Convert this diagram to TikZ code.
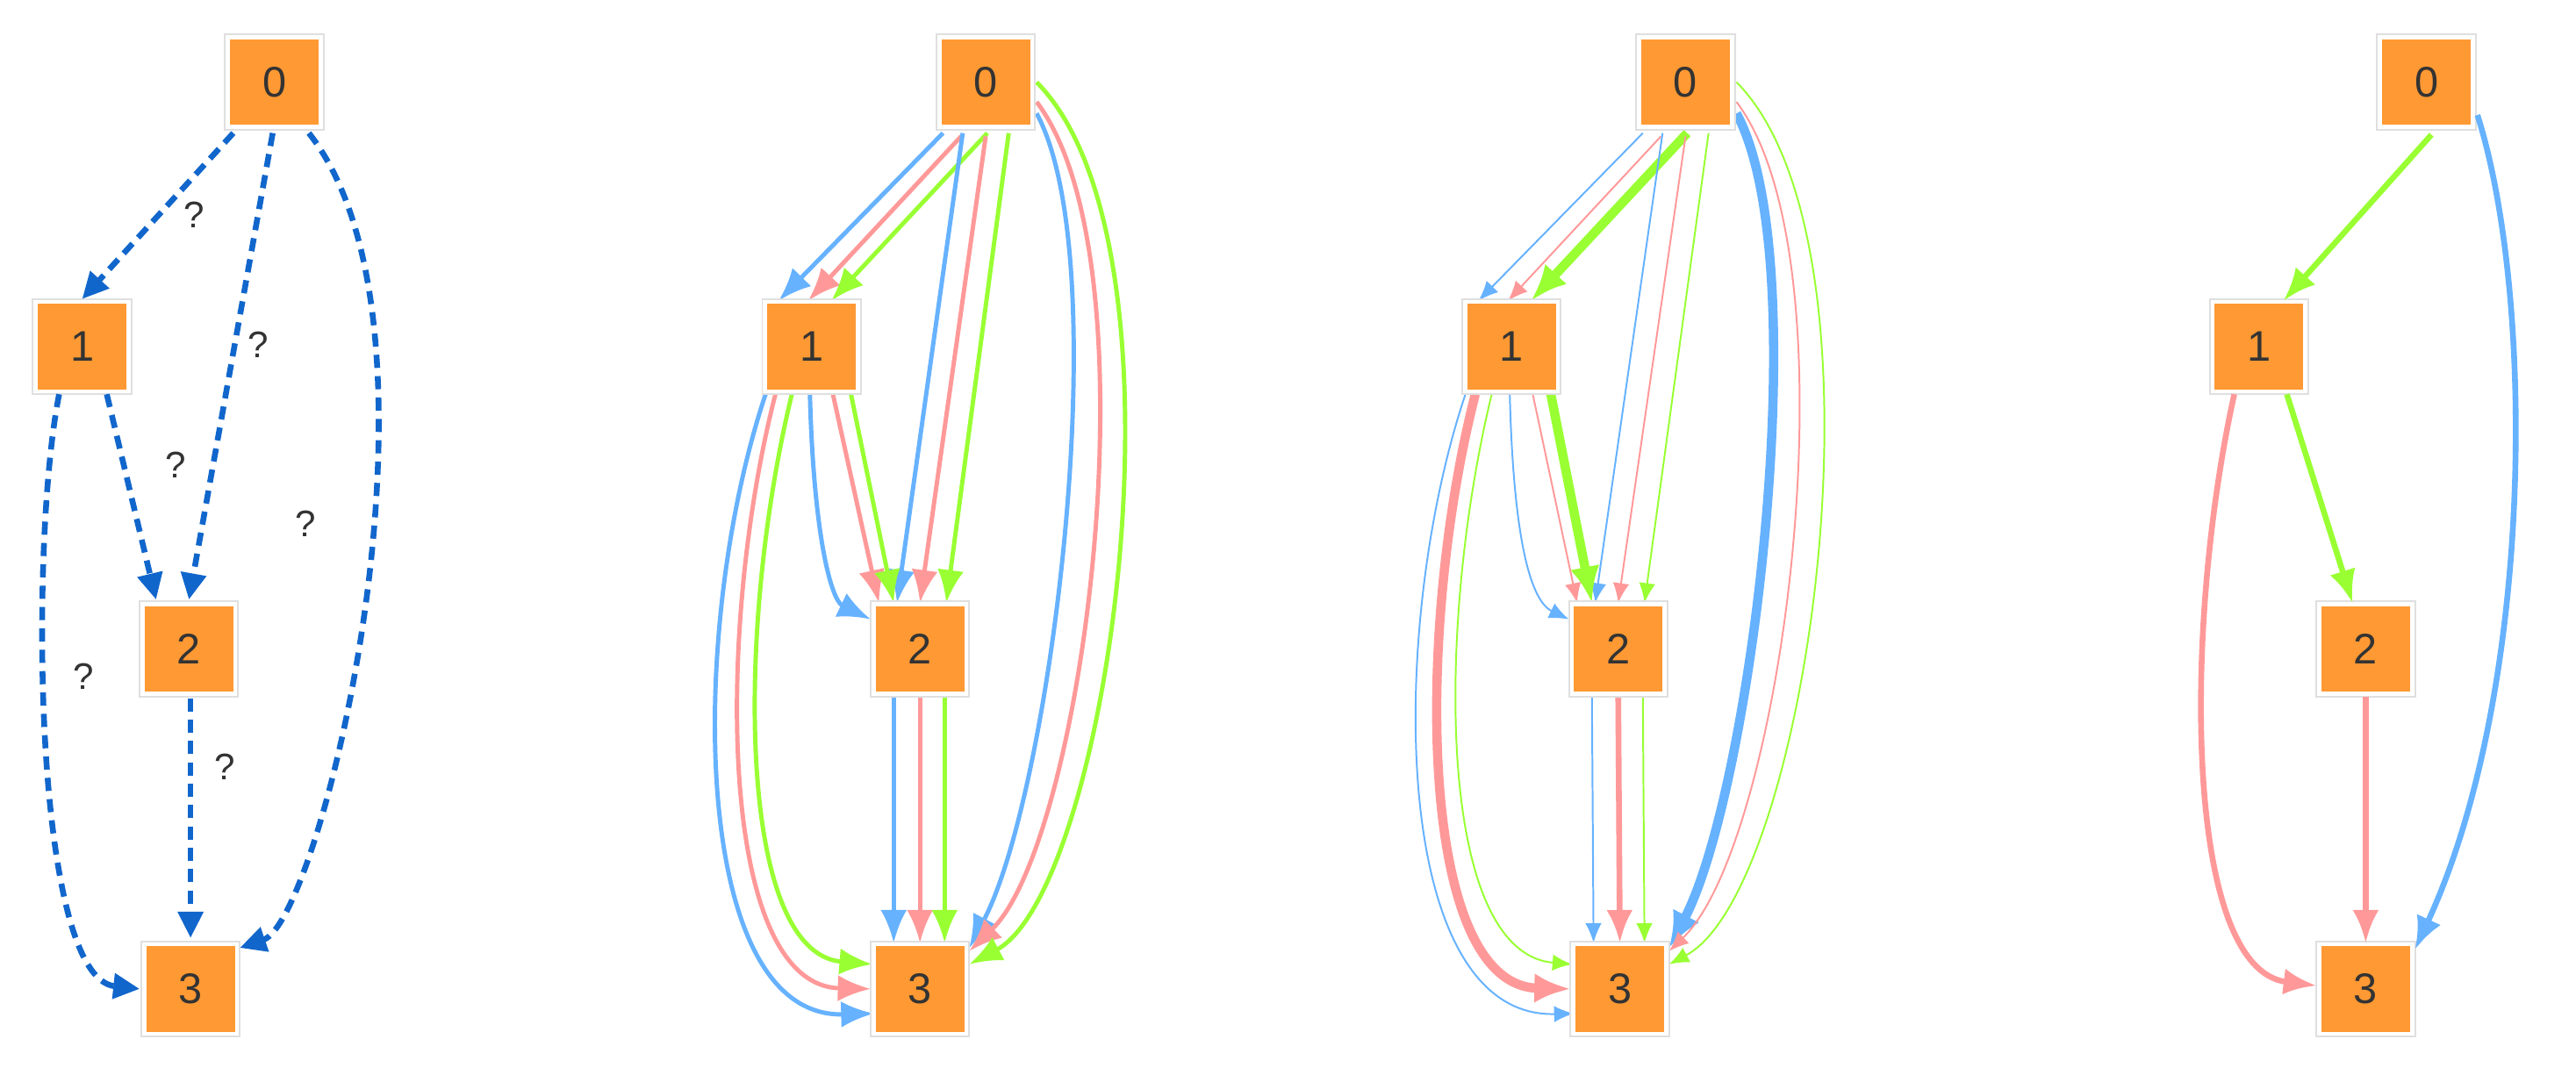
\documentclass[tikz,border=0pt]{standalone}
\usepackage{fontspec}
\setmainfont{Liberation Sans}
\usetikzlibrary{arrows.meta,calc}
\definecolor{cblue}{HTML}{66B2FF}
\definecolor{cpink}{HTML}{FF9999}
\definecolor{cgreen}{HTML}{99FF33}
\definecolor{corange}{HTML}{FF9933}
\definecolor{cdash}{HTML}{1166CC}
\definecolor{ctext}{HTML}{333333}
\newcommand{\multiedges}[1]{%
 % 0 -> 1
 \draw[cb,w01b] ($(#1n0)+(-26,31)$) -- ($(#1n1)+(-20,-28)$);
 \draw[cp,w01p] ($(#1n0)+(-15,33)$) -- ($(#1n1)+(-2,-28)$);
 \draw[cg,w01g] ($(#1n0)+(1,31)$) -- ($(#1n1)+(12,-28)$);
 % 0 -> 2
 \draw[cb,w02b] ($(#1n0)+(-14,31)$) -- ($(#1n2)+(-14,-28)$);
 \draw[cp,w02p] ($(#1n0)+(0,33)$) -- ($(#1n2)+(0,-28)$);
 \draw[cg,w02g] ($(#1n0)+(14,31)$) -- ($(#1n2)+(16,-28)$);
 % 1 -> 2
 \draw[cb,w12b] ($(#1n1)+(-1,29)$) .. controls ($(#1n1)+(1,109)$) and ($(#1n2)+(-55,-30)$) .. ($(#1n2)+(-30,-18)$);
 \draw[cp,w12p] ($(#1n1)+(13,29)$) -- ($(#1n2)+(-25,-28)$);
 \draw[cg,w12g] ($(#1n1)+(24,29)$) -- ($(#1n2)+(-16,-28)$);
 % 0 -> 3
 \draw[cb,w03b] ($(#1n0)+(31,19)$) .. controls ($(#1n0)+(80,110)$) and ($(#1n3)+(80,-120)$) .. ($(#1n3)+(30,-25)$);
 \draw[cp,w03p] ($(#1n0)+(31,12)$) .. controls ($(#1n0)+(105,110)$) and ($(#1n3)+(100,-90)$) .. ($(#1n3)+(30,-23)$);
 \draw[cg,w03g] ($(#1n0)+(31,0)$) .. controls ($(#1n0)+(130,100)$) and ($(#1n3)+(115,-60)$) .. ($(#1n3)+(30,-15)$);
 % 1 -> 3
 \draw[cb,w13b] ($(#1n1)+(-28,29)$) .. controls ($(#1n1)+(-75,169)$) and ($(#1n3)+(-141,18)$) .. ($(#1n3)+(-28,15)$);
 \draw[cp,w13p] ($(#1n1)+(-22,29)$) .. controls ($(#1n1)+(-58,169)$) and ($(#1n3)+(-124,-2)$) .. ($(#1n3)+(-30,0)$);
 \draw[cg,w13g] ($(#1n1)+(-12,29)$) .. controls ($(#1n1)+(-46,169)$) and ($(#1n3)+(-112,-22)$) .. ($(#1n3)+(-29,-15)$);
 % 2 -> 3
 \draw[cb,w23b] ($(#1n2)+(-16,28)$) -- ($(#1n3)+(-16,-28)$);
 \draw[cp,w23p] ($(#1n2)+(0,28)$) -- ($(#1n3)+(0,-28)$);
 \draw[cg,w23g] ($(#1n2)+(15,28)$) -- ($(#1n3)+(15,-28)$);
}
\tikzset{
 box/.style={fill=corange, draw=gray!25, line width=0.3pt, minimum width=0.6cm, minimum height=0.58cm,
   text=ctext, font=\fontsize{7.4}{8}\selectfont, inner sep=0pt,
   path picture={\draw[white,line width=0.06cm] (path picture bounding box.south west) rectangle (path picture bounding box.north east);}},
 qlab/.style={text=ctext, font=\fontsize{6.4}{7}\selectfont, inner sep=0pt},
 dashedge/.style={cdash, line width=1pt, dash pattern=on 0.08cm off 0.05cm, -{Triangle[length=0.16cm,width=0.15cm]}},
 cb/.style={cblue}, cp/.style={cpink}, cg/.style={cgreen},
 sthin/.style={line width=0.3pt, -{Latex[length=0.12cm,width=0.1cm]}},
 smed/.style={line width=0.75pt, -{Latex[length=0.2cm,width=0.16cm]}},
 smid/.style={line width=1.0pt, -{Latex[length=0.2cm,width=0.16cm]}},
 sthick/.style={line width=1.6pt, -{Latex[length=0.22cm,width=0.18cm]}},
 w01b/.style={smed}, w01p/.style={smed}, w01g/.style={smed},
 w02b/.style={smed}, w02p/.style={smed}, w02g/.style={smed},
 w12b/.style={smed}, w12p/.style={smed}, w12g/.style={smed},
 w03b/.style={smed}, w03p/.style={smed}, w03g/.style={smed},
 w13b/.style={smed}, w13p/.style={smed}, w13g/.style={smed},
 w23b/.style={smed}, w23p/.style={smed}, w23g/.style={smed},
}
\begin{document}
\begin{tikzpicture}[x=0.01cm,y=-0.01cm]
\useasboundingbox[fill=white] (0,0) rectangle (1568,650);
% Panel 1
\node[box] (An0) at (167,50) {0};
\node[box] (An1) at (50,211) {1};
\node[box] (An2) at (115,395) {2};
\node[box] (An3) at (116,602) {3};
\draw[dashedge] ($(An0)+(-25,31)$) -- ($(An1)+(0,-29)$);
\draw[dashedge] ($(An0)+(-1,31)$) -- ($(An2)+(0,-30)$);
\draw[dashedge] ($(An0)+(21,31)$) .. controls ($(An0)+(115,150)$) and ($(An3)+(80,-42)$) .. ($(An3)+(30,-25)$);
\draw[dashedge] ($(An1)+(15,29)$) -- ($(An2)+(-20,-30)$);
\draw[dashedge] ($(An1)+(-14,29)$) .. controls ($(An1)+(-32,119)$) and ($(An3)+(-96,-7)$) .. ($(An3)+(-31,0)$);
\draw[dashedge] ($(An2)+(1,30)$) -- ($(An3)+(0,-31)$);
\node[qlab] (q1) at (118,131) {?};
\node[qlab] (q2) at (157,210) {?};
\node[qlab] (q3) at (107,283) {?};
\node[qlab] (q4) at (186,319) {?};
\node[qlab] (q5) at (51,412) {?};
\node[qlab] (q6) at (137,467) {?};
% Panel 2
\node[box] (Bn0) at (600,50) {0};
\node[box] (Bn1) at (494,211) {1};
\node[box] (Bn2) at (560,395) {2};
\node[box] (Bn3) at (560,602) {3};
\multiedges{B}
\node[box] at (Bn0) {0};
\node[box] at (Bn1) {1};
\node[box] at (Bn2) {2};
\node[box] at (Bn3) {3};
% Panel 3
\node[box] (Cn0) at (1026,50) {0};
\node[box] (Cn1) at (920,211) {1};
\node[box] (Cn2) at (985,395) {2};
\node[box] (Cn3) at (986,602) {3};
\begin{scope}[
 w01b/.style={sthin}, w01p/.style={sthin}, w01g/.style={sthick},
 w02b/.style={sthin}, w02p/.style={sthin}, w02g/.style={sthin},
 w12b/.style={sthin}, w12p/.style={sthin}, w12g/.style={sthick},
 w03b/.style={sthick}, w03p/.style={sthin}, w03g/.style={sthin},
 w13b/.style={sthin}, w13p/.style={sthick}, w13g/.style={sthin},
 w23b/.style={sthin}, w23p/.style={smid}, w23g/.style={sthin}]
\multiedges{C}
\end{scope}
\node[box] at (Cn0) {0};
\node[box] at (Cn1) {1};
\node[box] at (Cn2) {2};
\node[box] at (Cn3) {3};
% Panel 4
\node[box] (Dn0) at (1477,50) {0};
\node[box] (Dn1) at (1375,211) {1};
\node[box] (Dn2) at (1440,395) {2};
\node[box] (Dn3) at (1440,602) {3};
\draw[cg,smid] ($(Dn0)+(3,32)$) -- ($(Dn1)+(15,-28)$);
\draw[cg,smid] ($(Dn1)+(17,29)$) -- ($(Dn2)+(-8,-28)$);
\draw[cp,smid] ($(Dn2)+(0,29)$) -- ($(Dn3)+(0,-28)$);
\draw[cp,smid] ($(Dn1)+(-15,29)$) .. controls ($(Dn1)+(-46,169)$) and ($(Dn3)+(-111,-12)$) .. ($(Dn3)+(-30,-2)$);
\draw[cb,smid] ($(Dn0)+(31,20)$) .. controls ($(Dn0)+(66,130)$) and ($(Dn3)+(103,-182)$) .. ($(Dn3)+(30,-24)$);
\end{tikzpicture}
\end{document}
